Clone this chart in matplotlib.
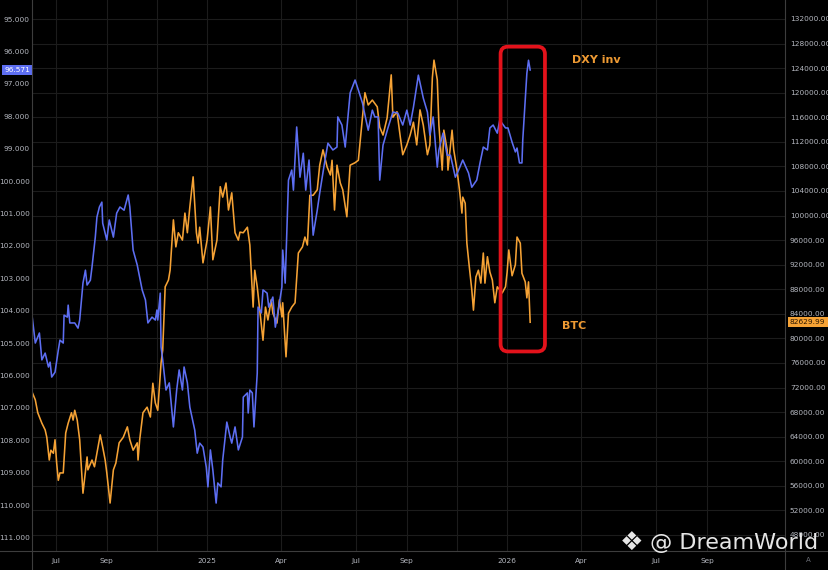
"""DXY (inverted) vs BTC overlay chart, dark TradingView-like style."""

import matplotlib

matplotlib.use("Agg")
import matplotlib.pyplot as plt
import matplotlib.dates as mdates
import matplotlib.transforms as mtransforms
from matplotlib.patches import FancyBboxPatch
from matplotlib.lines import Line2D
import pandas as pd

# ---- data ----
dxy_dates = [
    "2024-06-02", "2024-06-06", "2024-06-11", "2024-06-14", "2024-06-18", "2024-06-22",
    "2024-06-24", "2024-06-26", "2024-06-30", "2024-07-04", "2024-07-06", "2024-07-10",
    "2024-07-11", "2024-07-15", "2024-07-16", "2024-07-18", "2024-07-24", "2024-07-28",
    "2024-07-30", "2024-08-03", "2024-08-06", "2024-08-08", "2024-08-12", "2024-08-14",
    "2024-08-18", "2024-08-20", "2024-08-23", "2024-08-26", "2024-08-27", "2024-09-01",
    "2024-09-04", "2024-09-09", "2024-09-13", "2024-09-17", "2024-09-22", "2024-09-27",
    "2024-09-29", "2024-10-03", "2024-10-08", "2024-10-14", "2024-10-18", "2024-10-21",
    "2024-10-26", "2024-10-30", "2024-11-01", "2024-11-02", "2024-11-05", "2024-11-06",
    "2024-11-08", "2024-11-12", "2024-11-16", "2024-11-21", "2024-11-25", "2024-11-28",
    "2024-12-02", "2024-12-04", "2024-12-08", "2024-12-11", "2024-12-17", "2024-12-20",
    "2024-12-23", "2024-12-27", "2024-12-31", "2025-01-02", "2025-01-05", "2025-01-08",
    "2025-01-12", "2025-01-14", "2025-01-18", "2025-01-20", "2025-01-25", "2025-01-29",
    "2025-01-31", "2025-02-04", "2025-02-08", "2025-02-13", "2025-02-14", "2025-02-19",
    "2025-02-20", "2025-02-22", "2025-02-25", "2025-02-27", "2025-03-03", "2025-03-04",
    "2025-03-08", "2025-03-10", "2025-03-15", "2025-03-17", "2025-03-22", "2025-03-25",
    "2025-03-28", "2025-04-02", "2025-04-03", "2025-04-06", "2025-04-10", "2025-04-14",
    "2025-04-16", "2025-04-20", "2025-04-24", "2025-04-28", "2025-05-01", "2025-05-05",
    "2025-05-10", "2025-05-15", "2025-05-18", "2025-05-23", "2025-05-28", "2025-06-03",
    "2025-06-08", "2025-06-09", "2025-06-14", "2025-06-18", "2025-06-24", "2025-06-30",
    "2025-07-04", "2025-07-09", "2025-07-12", "2025-07-16", "2025-07-21", "2025-07-24",
    "2025-07-28", "2025-07-30", "2025-08-03", "2025-08-09", "2025-08-15", "2025-08-21",
    "2025-08-27", "2025-09-01", "2025-09-05", "2025-09-09", "2025-09-15", "2025-09-21",
    "2025-09-26", "2025-09-29", "2025-10-03", "2025-10-08", "2025-10-10", "2025-10-15",
    "2025-10-20", "2025-10-24", "2025-10-30", "2025-11-02", "2025-11-08", "2025-11-15",
    "2025-11-19", "2025-11-25", "2025-11-29", "2025-12-03", "2025-12-08", "2025-12-11",
    "2025-12-15", "2025-12-20", "2025-12-23", "2025-12-30", "2026-01-02", "2026-01-07",
    "2026-01-11", "2026-01-13", "2026-01-16", "2026-01-19", "2026-01-20", "2026-01-23",
    "2026-01-25", "2026-01-27", "2026-01-29",
]
dxy_values = [
    104.14, 105.00, 104.69, 105.52, 105.31, 105.74,
    105.59, 106.05, 105.90, 105.22, 104.91, 105.00,
    104.14, 104.20, 103.83, 104.38, 104.38, 104.54,
    104.29, 103.15, 102.75, 103.21, 103.06, 102.65,
    101.73, 101.11, 100.80, 100.65, 101.30, 101.82,
    101.20, 101.73, 100.99, 100.80, 100.90, 100.43,
    100.80, 102.13, 102.59, 103.36, 103.67, 104.38,
    104.20, 104.29, 103.98, 104.29, 103.46, 105.12,
    105.52, 106.45, 106.23, 107.59, 106.45, 105.83,
    106.45, 105.74, 106.23, 106.98, 107.69, 108.40,
    108.09, 108.21, 108.83, 109.44, 108.30, 108.92,
    109.94, 109.32, 109.44, 108.61, 107.44, 107.90,
    108.09, 107.59, 108.30, 107.90, 106.67, 106.54,
    107.16, 106.45, 106.54, 107.59, 105.93, 103.89,
    104.07, 103.36, 103.46, 103.89, 103.58, 104.51,
    104.07, 103.27, 102.13, 103.15, 99.97, 99.66,
    100.28, 98.33, 99.88, 99.14, 100.28, 99.35,
    101.67, 100.90, 100.37, 99.57, 98.83, 99.04,
    98.95, 98.02, 98.27, 98.95, 97.28, 96.88,
    97.19, 97.59, 97.96, 98.43, 97.81, 98.02,
    98.02, 99.97, 98.89, 98.36, 97.87, 97.90,
    98.27, 97.81, 98.27, 97.72, 96.73, 97.44,
    97.87, 98.58, 98.02, 99.57, 99.04, 98.52,
    99.20, 99.20, 99.88, 99.72, 99.35, 99.75,
    100.19, 99.97, 99.44, 98.95, 99.04, 98.36,
    98.27, 98.52, 98.12, 98.36, 98.36, 98.80,
    99.10, 98.98, 99.44, 99.44, 98.73, 97.50,
    96.67, 96.27, 96.571,
]

btc_dates = [
    "2024-06-02", "2024-06-06", "2024-06-09", "2024-06-14", "2024-06-18", "2024-06-20",
    "2024-06-23", "2024-06-25", "2024-06-28", "2024-06-30", "2024-07-02", "2024-07-04",
    "2024-07-06", "2024-07-10", "2024-07-13", "2024-07-16", "2024-07-20", "2024-07-22",
    "2024-07-24", "2024-07-27", "2024-07-30", "2024-08-03", "2024-08-08", "2024-08-09",
    "2024-08-14", "2024-08-17", "2024-08-20", "2024-08-24", "2024-08-27", "2024-08-30",
    "2024-09-01", "2024-09-05", "2024-09-09", "2024-09-12", "2024-09-16", "2024-09-21",
    "2024-09-26", "2024-09-29", "2024-10-03", "2024-10-08", "2024-10-09", "2024-10-11",
    "2024-10-15", "2024-10-20", "2024-10-24", "2024-10-27", "2024-10-30", "2024-11-02",
    "2024-11-06", "2024-11-08", "2024-11-11", "2024-11-15", "2024-11-17", "2024-11-21",
    "2024-11-24", "2024-11-27", "2024-12-02", "2024-12-05", "2024-12-08", "2024-12-11",
    "2024-12-15", "2024-12-19", "2024-12-21", "2024-12-23", "2024-12-27", "2025-01-01",
    "2025-01-05", "2025-01-08", "2025-01-13", "2025-01-17", "2025-01-20", "2025-01-24",
    "2025-01-27", "2025-01-31", "2025-02-04", "2025-02-08", "2025-02-10", "2025-02-14",
    "2025-02-19", "2025-02-22", "2025-02-26", "2025-02-28", "2025-03-03", "2025-03-06",
    "2025-03-10", "2025-03-13", "2025-03-16", "2025-03-20", "2025-03-22", "2025-03-27",
    "2025-03-30", "2025-04-02", "2025-04-03", "2025-04-07", "2025-04-10", "2025-04-14",
    "2025-04-18", "2025-04-22", "2025-04-27", "2025-04-30", "2025-05-03", "2025-05-06",
    "2025-05-10", "2025-05-15", "2025-05-18", "2025-05-22", "2025-05-27", "2025-05-31",
    "2025-06-02", "2025-06-05", "2025-06-08", "2025-06-12", "2025-06-15", "2025-06-20",
    "2025-06-24", "2025-06-30", "2025-07-04", "2025-07-09", "2025-07-12", "2025-07-16",
    "2025-07-21", "2025-07-27", "2025-07-30", "2025-08-03", "2025-08-08", "2025-08-13",
    "2025-08-15", "2025-08-20", "2025-08-24", "2025-08-27", "2025-09-01", "2025-09-05",
    "2025-09-09", "2025-09-13", "2025-09-17", "2025-09-21", "2025-09-26", "2025-09-29",
    "2025-10-02", "2025-10-04", "2025-10-08", "2025-10-10", "2025-10-14", "2025-10-16",
    "2025-10-20", "2025-10-21", "2025-10-26", "2025-10-28", "2025-11-01", "2025-11-04",
    "2025-11-07", "2025-11-08", "2025-11-11", "2025-11-13", "2025-11-16", "2025-11-19",
    "2025-11-21", "2025-11-24", "2025-11-27", "2025-11-30", "2025-12-03", "2025-12-05",
    "2025-12-08", "2025-12-11", "2025-12-14", "2025-12-17", "2025-12-20", "2025-12-26",
    "2025-12-30", "2026-01-01", "2026-01-03", "2026-01-07", "2026-01-11", "2026-01-13",
    "2026-01-17", "2026-01-19", "2026-01-23", "2026-01-25", "2026-01-27", "2026-01-29",
]
btc_values = [
    71300, 70000, 67900, 66200, 65100, 63900,
    60200, 61800, 61300, 63500, 59700, 56900,
    58100, 58100, 64600, 66200, 67900, 66700,
    68300, 66700, 63500, 54800, 60700, 58600,
    60200, 59100, 61300, 64300, 62300, 60200,
    58100, 53200, 58600, 59700, 63000, 63900,
    65600, 63500, 61800, 63000, 60200, 63500,
    67900, 68800, 67200, 72700, 69500, 68300,
    76000, 78100, 88400, 89500, 91100, 99300,
    94900, 97200, 96000, 100400, 97200, 101400,
    106300, 97200, 95500, 98100, 92300, 96000,
    101400, 92800, 96000, 104700, 103000, 105300,
    100900, 103700, 97200, 96000, 97300, 97200,
    98100, 95200, 85100, 91100, 88400, 84600,
    79700, 85100, 83000, 86300, 84100, 82500,
    86300, 83500, 85800, 77000, 84100, 85100,
    85800, 93900, 94900, 96500, 95200, 103300,
    103300, 104200, 108200, 110700, 107900, 106600,
    109000, 100900, 108200, 105300, 104200, 99800,
    108200, 108600, 109000, 116000, 120000, 118000,
    118800, 117700, 114400, 113100, 115900, 122900,
    116000, 116900, 112800, 109900, 111500, 113100,
    115200, 111500, 117200, 114700, 109900, 111500,
    122400, 125300, 122100, 114700, 107400, 113900,
    110700, 107400, 113900, 110700, 107400, 104200,
    100400, 103000, 102000, 95500, 91600, 87900,
    84600, 90000, 91100, 89000, 93900, 89000,
    93300, 90800, 89500, 85800, 88400, 87400,
    88400, 90800, 94400, 90200, 92000, 96500,
    95500, 90600, 89200, 86600, 89200, 82629.99,
]

x_tick_dates = ["2024-07-01", "2024-09-01", "2025-01-01", "2025-04-01", "2025-07-01",
                "2025-09-01", "2026-01-01", "2026-04-01", "2026-07-01", "2026-09-01"]
x_tick_labels = ["Jul", "Sep", "2025", "Apr", "Jul", "Sep", "2026", "Apr", "Jul", "Sep"]
x_grid_only = ["2024-11-01", "2025-11-01"]
dxy_ticks = list(range(95, 112))
btc_ticks = list(range(48000, 132001, 4000))

# ---- style ----
BG = "#000000"
GRID = "#1c1c1c"
SEP = "#3d3d3d"
TEXT = "#b4b7bf"
BLUE = "#5d6ef2"
ORANGE = "#f5a235"
RED = "#e3121b"

W, H = 829, 570
fig = plt.figure(figsize=(W / 100, H / 100), dpi=100, facecolor=BG)
ax = fig.add_axes([32 / W, 19 / H, 753 / W, 551 / H])  # BTC, right scale
ax.set_facecolor(BG)
ax2 = ax.twinx()  # DXY, left scale, inverted

ax.plot(pd.to_datetime(btc_dates), btc_values, color=ORANGE, lw=1.15)
ax2.plot(pd.to_datetime(dxy_dates), dxy_values, color=BLUE, lw=1.15)

ax.set_xlim(pd.Timestamp("2024-06-02"), pd.Timestamp("2026-12-05"))
ax.set_ylim(45390, 135090)
ax2.set_ylim(111.42, 94.41)

ax.set_xticks(pd.to_datetime(x_tick_dates))
ax.set_xticklabels(x_tick_labels)
ax.set_xticks(pd.to_datetime(x_grid_only), minor=True)
ax.yaxis.tick_right()
ax.set_yticks(btc_ticks)
ax.set_yticklabels([f"{v:.2f}" for v in btc_ticks])
ax2.yaxis.tick_left()
ax2.set_yticks(dxy_ticks)
ax2.set_yticklabels([f"{v:.3f}" for v in dxy_ticks])

ax.tick_params(axis="both", which="both", length=0, colors=TEXT, labelsize=5.3)
ax.tick_params(axis="x", pad=5)
ax.tick_params(axis="y", pad=3.5)
ax2.tick_params(axis="y", length=0, colors=TEXT, labelsize=5.3, pad=1.5)
ax.grid(True, which="both", color=GRID, lw=0.8)
ax.set_axisbelow(True)
for a in (ax, ax2):
    for s in a.spines.values():
        s.set_visible(False)

# scale separators
fig.add_artist(Line2D([32 / W] * 2, [0, 1], transform=fig.transFigure, color=SEP, lw=0.8))
fig.add_artist(Line2D([785 / W] * 2, [0, 1], transform=fig.transFigure, color=SEP, lw=0.8))
fig.add_artist(Line2D([0, 1], [19 / H] * 2, transform=fig.transFigure, color=SEP, lw=0.8))

# last-value tags
tr_l = mtransforms.blended_transform_factory(ax2.transAxes, ax2.transData)
ax2.text(-2 / 753, dxy_values[-1], f"{dxy_values[-1]:.3f}", transform=tr_l, ha="right",
         va="center", fontsize=5.3, color="white", clip_on=False,
         bbox=dict(boxstyle="square,pad=0.3", fc=BLUE, ec="none"))
tr_r = mtransforms.blended_transform_factory(ax.transAxes, ax.transData)
ax.text(1 + 5 / 753, btc_values[-1], f"{btc_values[-1]:.2f}", transform=tr_r, ha="left",
        va="center", fontsize=5.3, color="#2a1600", clip_on=False,
        bbox=dict(boxstyle="square,pad=0.3", fc=ORANGE, ec="none"))

# red highlight box around the last weeks
box_x = mdates.date2num(pd.to_datetime(["2025-12-24", "2026-02-16"]))
box_y = [95.85, 105.26]
inv = fig.transFigure.inverted()
p0 = inv.transform(ax2.transData.transform((box_x[0], box_y[1])))
p1 = inv.transform(ax2.transData.transform((box_x[1], box_y[0])))
fig.add_artist(FancyBboxPatch((p0[0], p0[1]), p1[0] - p0[0], p1[1] - p0[1],
                              boxstyle="round,pad=0,rounding_size=0.009",
                              mutation_aspect=W / H, transform=fig.transFigure,
                              fill=False, ec=RED, lw=2.7))

fig.text(572 / W, 1 - 60 / H, "DXY inv", color="#ee9a33", fontsize=8, fontweight="bold",
         ha="left", va="center")
fig.text(562 / W, 1 - 326 / H, "BTC", color="#ee9a33", fontsize=8, fontweight="bold",
         ha="left", va="center")

# watermark
fig.text(632 / W, 1 - 543 / H, "\u2756", color="white", alpha=0.9, fontsize=19,
         ha="center", va="center")
fig.text(650 / W, 1 - 543 / H, "@ DreamWorld", color="white", alpha=0.9, fontsize=16,
         ha="left", va="center")
fig.text(808 / W, 1 - 560 / H, "A", color="#6a6d75", fontsize=5, ha="center", va="center")

fig.savefig("out.png", dpi=100, facecolor=BG)
